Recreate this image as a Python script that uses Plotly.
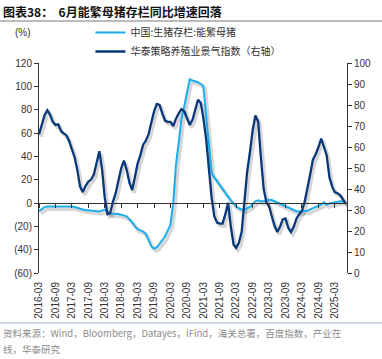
import pandas as pd
import plotly.graph_objects as go

# Monthly data, 2016-03 onward
dates = pd.date_range("2016-03-01", periods=113, freq="MS")

sow_yoy = [
    -7, -5, -3.5, -3, -3, -3, -3, -3, -3, -3,
    -2.8, -2.8, -3, -3.5, -4.3, -5, -5.5, -6, -6.3, -6.5,
    -6.8, -7, -7.2, -6.5, -5.7, -7.5, -9.2, -9.2, -9.2, -9.5,
    -10, -10.5, -11.5, -14, -16.5, -20, -22.3, -23.5, -24.3, -26.5,
    -31, -37, -39, -38, -35, -31.5, -28.5, -23.5, -18.6, 0,
    33, 52, 72, 83, 96, 106, 105, 104.5, 103.5, 102,
    100.5, 75, 50, 25.7, 22, 18.5, 15, 11.5, 8, 5,
    2, -0.5, -3, -4.5, -5.5, -5.7, -4.5, -3.3, -1, 1.5,
    2.3, 1.5, 1.5, 2, 2.8, 2.5, 1.5, 0.5, -0.6, -1.8,
    -3, -4, -5, -6, -7, -7.2, -7, -6.8, -6.6, -5.5,
    -4.5, -3.5, -2.9, -1.5, 0.5, -1.5, -0.5, 0, 0.5, 1,
    1.4, 1.2, 0.5,
]

index_vals = [
    66, 70, 75, 77.5, 75.5, 72, 70.5, 70.8, 67.5, 66.5,
    65.5, 62.5, 58.5, 55, 49, 41, 38.5, 41.5, 43.5, 44.5,
    47, 53, 58, 49, 36, 28, 28.5, 34, 38, 44,
    50, 53.5, 49, 43, 39.5, 46, 52, 56, 61, 63,
    66, 71.5, 77, 80.5, 80, 76, 72.5, 72, 72, 70,
    73.5, 76, 78, 77, 73.5, 70.5, 73, 78, 82.5, 81,
    74, 64, 50, 36, 27, 24, 23.5, 23.5, 28, 33.5,
    22, 13.5, 12, 14.5, 19.5, 35, 48, 57.5, 68, 75,
    72, 55, 40, 33.5, 32, 27, 22.5, 19.5, 22, 25.5,
    26, 21.5, 19.5, 22, 26, 28, 29.5, 34, 40, 47,
    54, 56.5, 60, 64, 60, 56, 45.5, 41, 38.5, 38,
    37, 35, 33,
]

tick_dates = pd.date_range("2016-03-01", "2025-03-01", freq="6MS")
tick_text = [d.strftime("%Y-%m") for d in tick_dates]

left_ticks = [-60, -40, -20, 0, 20, 40, 60, 80, 100, 120]
left_text = ["(60)", "(40)", "(20)", "0", "20", "40", "60", "80", "100", "120"]
right_ticks = [0, 10, 20, 30, 40, 50, 60, 70, 80, 90, 100]

LIGHT = "#1AADEA"
DARK = "#08387A"
SHADOW = "rgba(0,0,0,0.16)"
FONT = "Liberation Sans, Arial, sans-serif"
CJK = "Noto Sans CJK SC"

PLOT_TOP, PLOT_BOT = 63.0, 273.0


def py(px):
    """pixel row -> paper y"""
    return (PLOT_BOT - px) / (PLOT_BOT - PLOT_TOP)


x0, x1 = pd.Timestamp("2016-03-01"), pd.Timestamp("2025-07-15")
xr = [x0, x1]
# drop shadow: axes shifted by ~2px right and ~2.5px down
sx = pd.Timedelta(days=22)
xr_sh = [x0 - sx, x1 - sx]
dl = 2.5 * 180 / 210
dr = 2.5 * 100 / 210

fig = go.Figure()
# shadows on base (invisible) axes, drawn first
fig.add_trace(go.Scatter(
    x=dates, y=sow_yoy, mode="lines", line=dict(color=SHADOW, width=3.5),
    xaxis="x", yaxis="y", showlegend=False, hoverinfo="skip",
))
fig.add_trace(go.Scatter(
    x=dates, y=index_vals, mode="lines", line=dict(color=SHADOW, width=3.5),
    xaxis="x", yaxis="y2", showlegend=False, hoverinfo="skip",
))
fig.add_trace(go.Scatter(
    x=dates, y=sow_yoy, mode="lines", name="中国:生猪存栏:能繁母猪",
    line=dict(color=LIGHT, width=2), xaxis="x2", yaxis="y3", legendgroup="a",
))
fig.add_trace(go.Scatter(
    x=dates, y=index_vals, mode="lines", name="华泰策略养殖业景气指数（右轴）",
    line=dict(color=DARK, width=2.3), xaxis="x2", yaxis="y4", legendgroup="b",
))
# carrier for the zero-line axis (drawn invisibly)
fig.add_trace(go.Scatter(
    x=dates, y=sow_yoy, mode="lines", line=dict(color="rgba(0,0,0,0)", width=0),
    xaxis="x3", yaxis="y3", showlegend=False, hoverinfo="skip",
))

fig.update_layout(
    width=382, height=359,
    margin=dict(l=39, r=35, t=63, b=86, autoexpand=False),
    paper_bgcolor="white", plot_bgcolor="white",
    font=dict(family=FONT, size=10, color="#333333"),
    showlegend=True,
    legend=dict(
        x=0.167, y=py(18), xref="paper", yref="paper",
        xanchor="left", yanchor="top",
        font=dict(family=CJK, size=10, color="#333333"),
        tracegroupgap=0, bgcolor="rgba(0,0,0,0)",
    ),
    xaxis=dict(range=xr_sh, visible=False, anchor="y"),
    yaxis=dict(range=[-60 + dl, 120 + dl], visible=False, anchor="x"),
    yaxis2=dict(range=[0 + dr, 100 + dr], visible=False, overlaying="y", anchor="x"),
    xaxis2=dict(
        range=xr, overlaying="x", anchor="y3", side="bottom",
        showline=False, showgrid=False, zeroline=False,
        tickvals=tick_dates, ticktext=tick_text, tickangle=-90,
        ticks="", ticklabelstandoff=6, tickfont=dict(size=10, color="#333333"),
    ),
    xaxis3=dict(
        range=xr, overlaying="x", anchor="free", position=1/3,
        side="bottom", showline=True, linecolor="#333333", linewidth=1,
        ticks="outside", ticklen=4, tickcolor="#333333", tickvals=tick_dates,
        showticklabels=False, showgrid=False, zeroline=False,
    ),
    yaxis3=dict(
        range=[-60, 120], tickvals=left_ticks, ticktext=left_text,
        overlaying="y", side="left", anchor="x2",
        showline=True, linecolor="#333333", ticks="outside", ticklen=4,
        tickcolor="#333333", showgrid=False, zeroline=False,
        tickfont=dict(size=10, color="#333333"),
    ),
    yaxis4=dict(
        range=[0, 100], tickvals=right_ticks, overlaying="y", side="right",
        anchor="x2", showline=True, linecolor="#333333", ticks="outside",
        ticklen=4, tickcolor="#333333", showgrid=False, zeroline=False,
        tickfont=dict(size=10, color="#333333"),
    ),
    annotations=[
        dict(text="<b>图表38：  6月能繁母猪存栏同比增速回落</b>", xref="paper", yref="paper",
             x=-0.122, y=py(12), xanchor="left", yanchor="middle", showarrow=False,
             font=dict(family=CJK, size=12, color="#111111")),
        dict(text="(%)", xref="paper", yref="paper", x=-0.085, y=py(32),
             xanchor="left", yanchor="middle", showarrow=False,
             font=dict(family=FONT, size=10, color="#333333")),
        dict(text="资料来源：Wind，Bloomberg，Datayes，iFind，海关总署，百度指数，产业在",
             xref="paper", yref="paper", x=-0.122, y=py(333), xanchor="left", yanchor="middle",
             align="left", showarrow=False,
             font=dict(family=CJK, size=9.5, color="#8C8C8C")),
        dict(text="线，华泰研究",
             xref="paper", yref="paper", x=-0.122, y=py(349), xanchor="left", yanchor="middle",
             align="left", showarrow=False,
             font=dict(family=CJK, size=9.5, color="#8C8C8C")),
    ],
    shapes=[
        dict(type="line", xref="paper", yref="paper", x0=-0.128, x1=1.115,
             y0=py(21), y1=py(21), line=dict(color="#555555", width=0.8)),
        dict(type="line", xref="paper", yref="paper", x0=-0.128, x1=1.115,
             y0=py(323), y1=py(323), line=dict(color="#9DB3CF", width=1)),
    ],
)

fig.write_html(
    "out.html",
    config={"displayModeBar": False},
    post_script="document.body.style.margin='0px';",
)
